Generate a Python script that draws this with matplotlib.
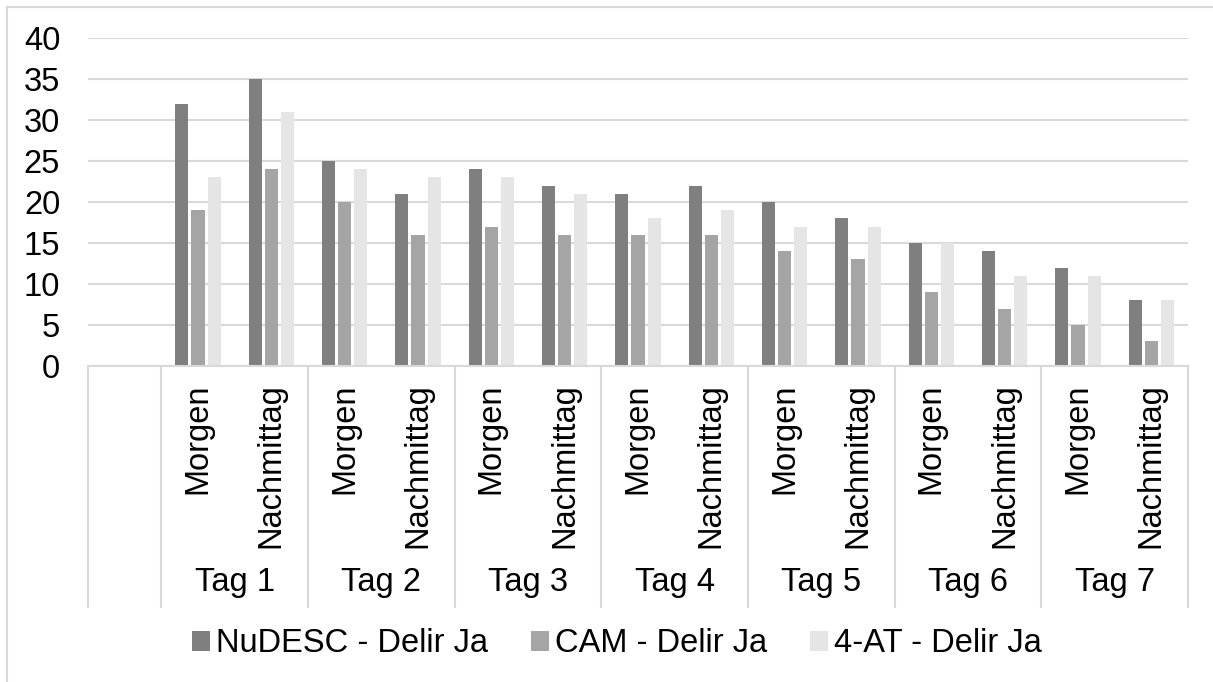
import matplotlib
matplotlib.use("Agg")
import matplotlib.pyplot as plt
from matplotlib.lines import Line2D
from matplotlib.patches import Patch
import matplotlib.transforms as mtransforms
import numpy as np

plt.rcParams['font.family'] = ['Liberation Sans', 'DejaVu Sans']

days = ["Tag 1", "Tag 2", "Tag 3", "Tag 4", "Tag 5", "Tag 6", "Tag 7"]
times = ["Morgen", "Nachmittag"]
series_names = ["NuDESC - Delir Ja", "CAM - Delir Ja", "4-AT - Delir Ja"]
nudesc = [32, 35, 25, 21, 24, 22, 21, 22, 20, 18, 15, 14, 12, 8]
cam = [19, 24, 20, 16, 17, 16, 16, 16, 14, 13, 9, 7, 5, 3]
fourat = [23, 31, 24, 23, 23, 21, 18, 19, 17, 17, 15, 11, 11, 8]
colors = ["#7f7f7f", "#a5a5a5", "#e5e5e5"]

FS = 23.5
W, H = 1213, 682
fig = plt.figure(figsize=(W / 100, H / 100), dpi=100)
left, right, top, bottom = 88, 1188, 38, 366
ax = fig.add_axes([left / W, 1 - bottom / H, (right - left) / W, (bottom - top) / H])

ncat = 1 + len(days) * len(times)
x = np.arange(1, ncat)
bw = 0.178
step = 0.219
for i, (vals, c) in enumerate(zip([nudesc, cam, fourat], colors)):
    ax.bar(x + (i - 1) * step, vals, width=bw, color=c, zorder=3)

ax.set_xlim(-0.5, ncat - 0.5)
ax.set_ylim(0, 40)
ax.set_yticks(range(0, 41, 5))
ax.tick_params(axis='y', length=0, labelsize=FS, pad=20)
ax.set_xticks([])
ax.yaxis.grid(True, color="#d9d9d9", linewidth=1.5, zorder=0)
for s in ["top", "right", "left"]:
    ax.spines[s].set_visible(False)
ax.spines["bottom"].set_color("#d9d9d9")
ax.spines["bottom"].set_linewidth(1.5)
ax.spines["bottom"].set_zorder(4)

trans = mtransforms.blended_transform_factory(ax.transData, ax.transAxes)
axh = bottom - top
ybot = -(607 - bottom) / axh
sep_x = [-0.5, 0.5] + [0.5 + 2 * (k + 1) for k in range(len(days))]
for sx in sep_x:
    ax.add_line(Line2D([sx, sx], [0, ybot], transform=trans, color="#d9d9d9",
                       linewidth=1.5, clip_on=False))

ylab = -(383 - bottom) / axh
yday = -(583 - bottom) / axh
for d, day in enumerate(days):
    for t, tm in enumerate(times):
        xi = 1 + 2 * d + t
        ax.text(xi, ylab, tm, transform=trans, rotation=90, ha='center', va='top',
                fontsize=FS, color='black')
    ax.text(1.5 + 2 * d, yday, day, transform=trans, ha='center', va='center',
            fontsize=FS, color='black')

handles = [Patch(facecolor=c, edgecolor='none') for c in colors]
fig.legend(handles, series_names, loc='center', bbox_to_anchor=(617 / W, 1 - 644 / H),
           ncol=3, frameon=False, fontsize=FS, handlelength=0.55, handleheight=0.55,
           handletextpad=0.2, columnspacing=1.3)

fig.add_artist(Line2D([7 / W, 1], [1 - 7 / H, 1 - 7 / H], transform=fig.transFigure,
                      color="#d9d9d9", linewidth=1.5))
fig.add_artist(Line2D([7 / W, 7 / W], [0, 1 - 7 / H], transform=fig.transFigure,
                      color="#d9d9d9", linewidth=1.5))

fig.savefig("out.png", dpi=100, facecolor='white')
